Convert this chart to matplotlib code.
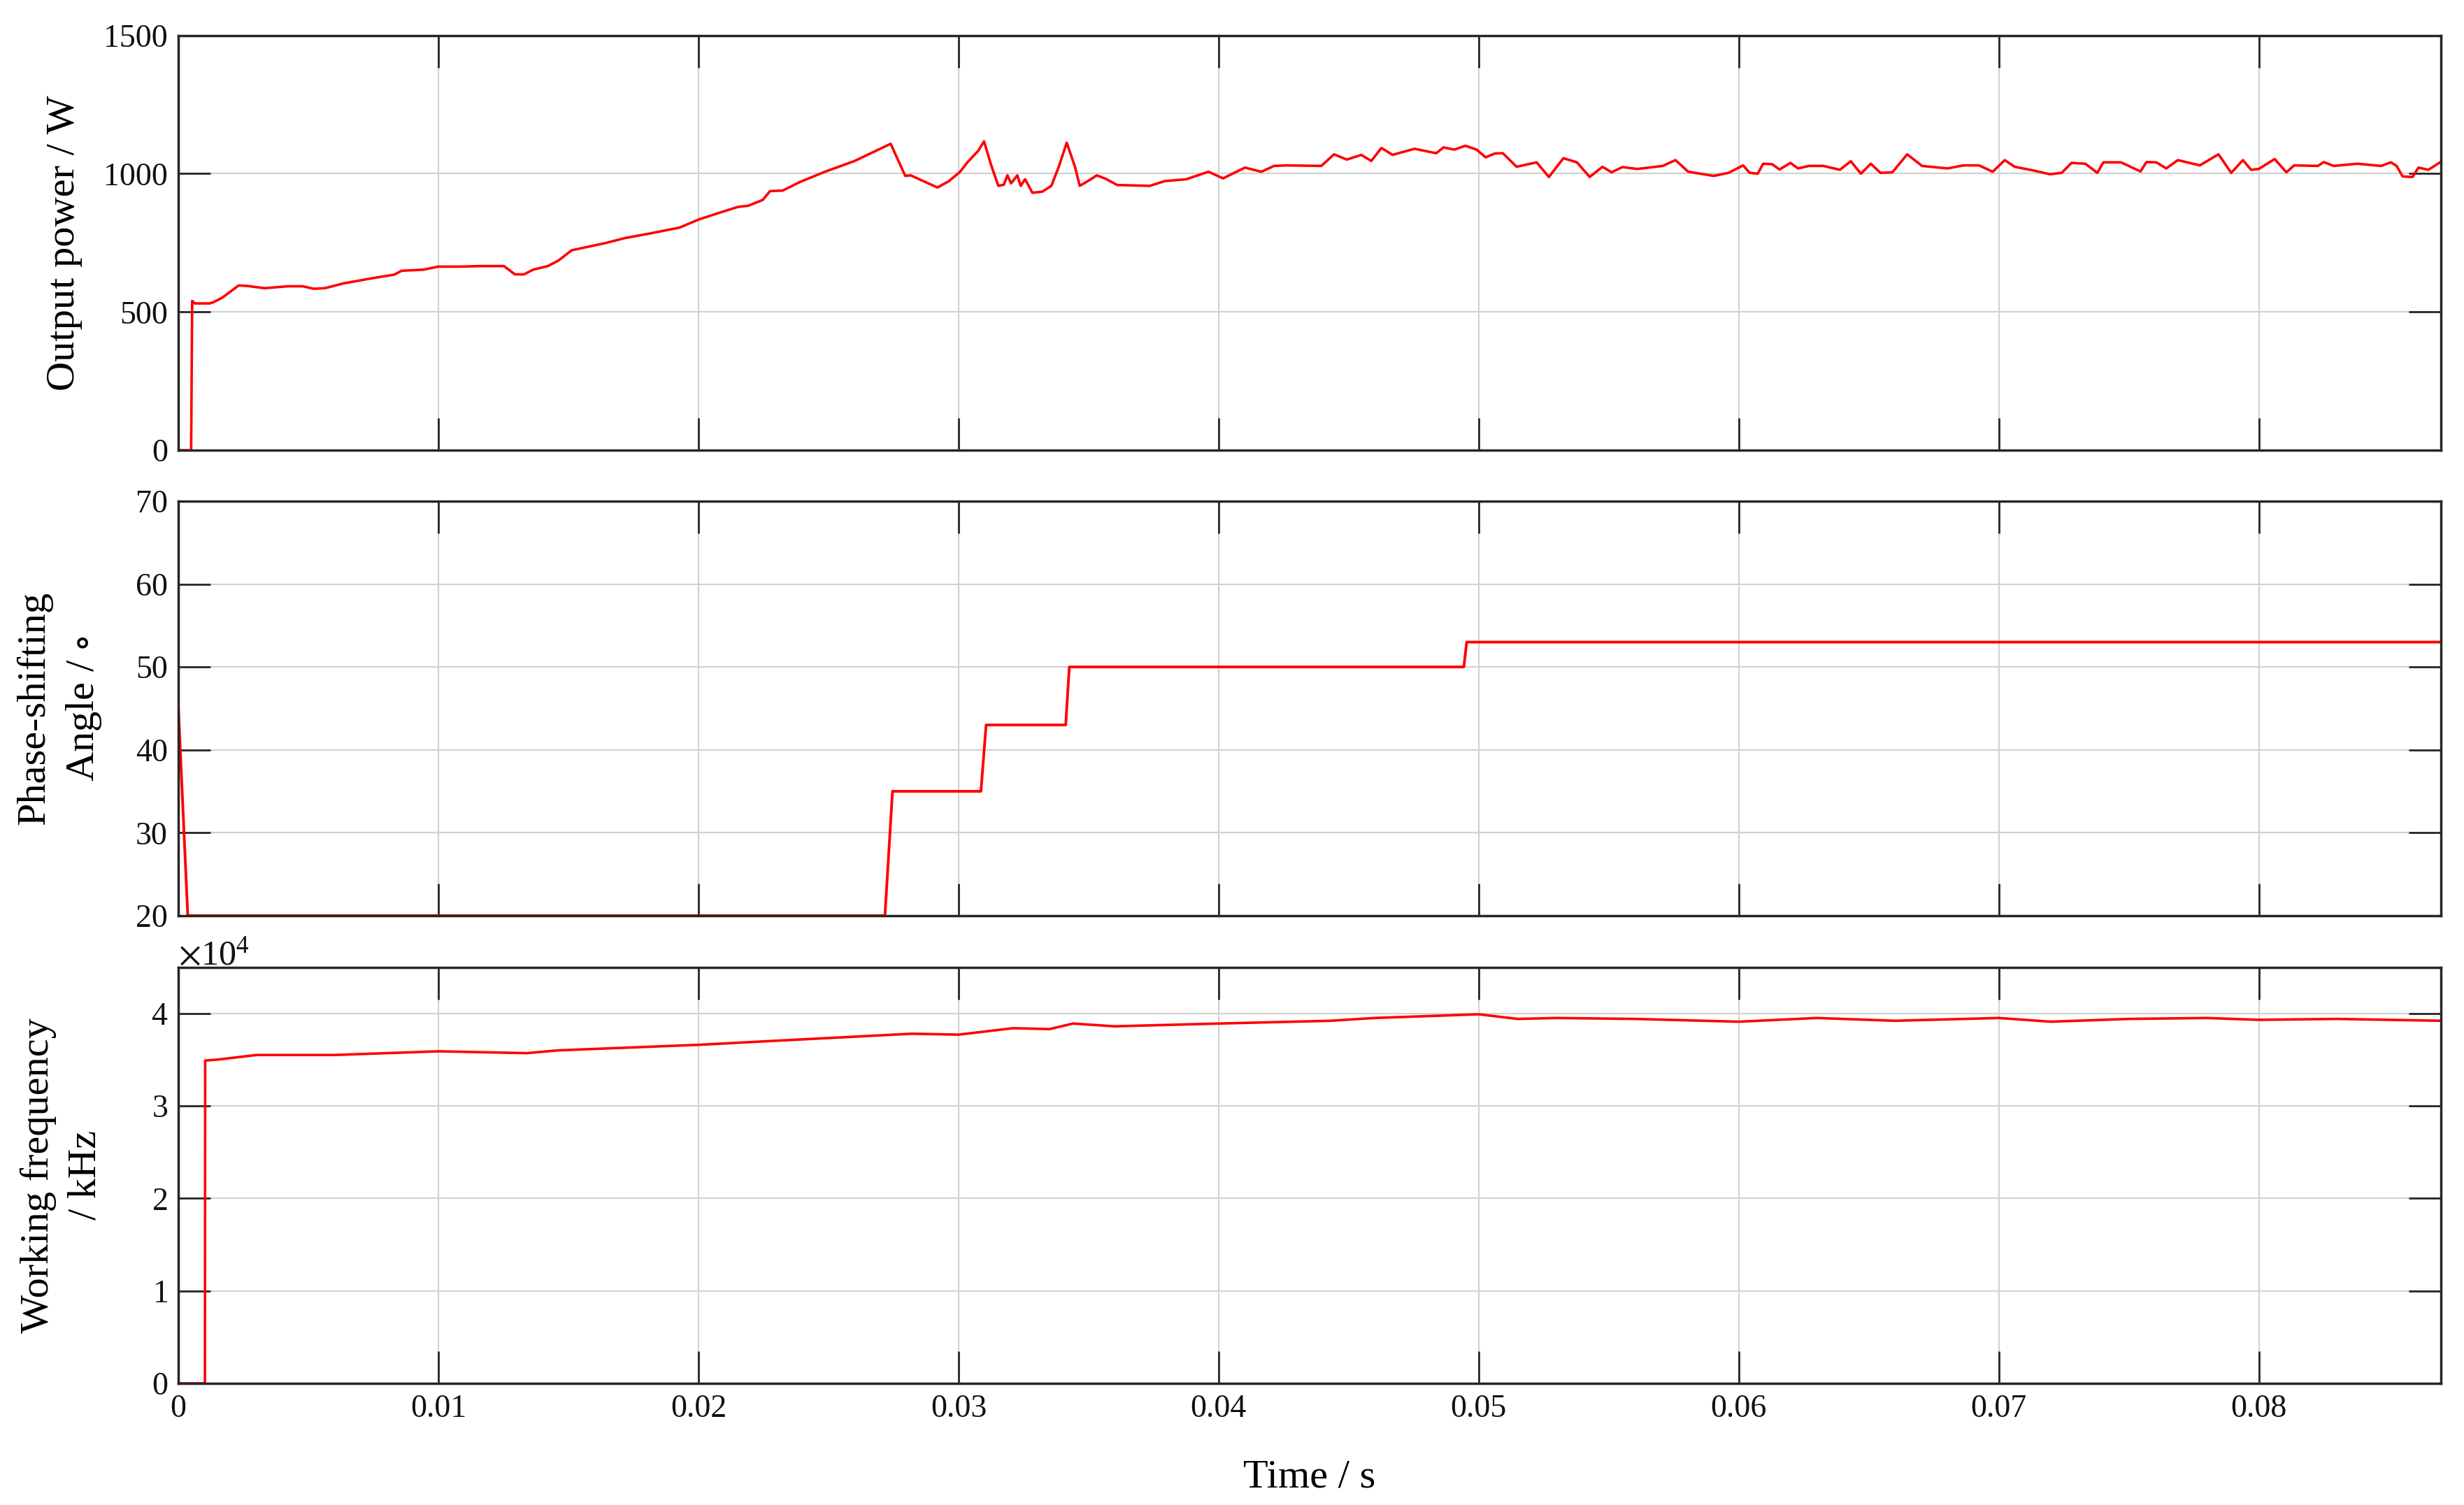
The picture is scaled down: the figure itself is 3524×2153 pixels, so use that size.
import numpy as np
import matplotlib
matplotlib.use('Agg')
import matplotlib.pyplot as plt
from matplotlib.ticker import ScalarFormatter


#Output power (W)
time_p = [0, 0.00049, 0.00053, 0.00063, 0.0012, 0.00134, 0.00169, 0.00232, 0.00267, 0.00331,
		  0.00422, 0.00478, 0.0052, 0.00563, 0.00633, 0.00745, 0.0083, 0.00858, 0.00942, 0.00999,
		  0.01083, 0.01167, 0.01252, 0.01294, 0.01329, 0.01364, 0.01421, 0.01463, 0.01512, 0.01561,
		  0.01646, 0.01716, 0.01814, 0.01927, 0.02, 0.02068, 0.02152, 0.02191, 0.02247, 0.02275,
		  0.02324, 0.02388, 0.02486, 0.02598, 0.02739, 0.02795, 0.02816, 0.02865, 0.02919, 0.02963,
		  0.03006, 0.03034, 0.03076, 0.03098, 0.03125, 0.03153, 0.03174, 0.03188, 0.03202, 0.03226,
		  0.03239, 0.03256, 0.03284, 0.03322, 0.03357, 0.03385, 0.03416, 0.03448, 0.03466, 0.03497,
		  0.03532, 0.03567, 0.0361, 0.03736, 0.03792, 0.03876, 0.03961, 0.04017, 0.04101, 0.04164,
		  0.04213, 0.04261, 0.04395, 0.04444, 0.04493, 0.04549, 0.04587, 0.04626, 0.04669, 0.04753,
		  0.04837, 0.04865, 0.04907, 0.04949, 0.04992, 0.05027, 0.05062, 0.05093, 0.05146, 0.05223,
		  0.0527, 0.05326, 0.05378, 0.05427, 0.05476, 0.05511, 0.05553, 0.0561, 0.05708, 0.05757,
		  0.05806, 0.05904, 0.05961, 0.06017, 0.06042, 0.06073, 0.06094, 0.06129, 0.06157, 0.06199,
		  0.06228, 0.0627, 0.06326, 0.06389, 0.06431, 0.0647, 0.06508, 0.06545, 0.06591, 0.06648,
		  0.06705, 0.06803, 0.06864, 0.06924, 0.06977, 0.07023, 0.07061, 0.07136, 0.07197, 0.07242,
		  0.0728, 0.07333, 0.07379, 0.07402, 0.0747, 0.075, 0.07545, 0.07568, 0.07606, 0.07644,
		  0.07689, 0.07773, 0.07845, 0.07894, 0.07939, 0.0797, 0.08, 0.08061, 0.08106, 0.08136,
		  0.08227, 0.0825, 0.08288, 0.08379, 0.0847, 0.08508, 0.0853, 0.08553, 0.08591, 0.08614,
		  0.08652, 0.08697]
power = [0, 0, 540, 531, 531, 535, 552, 596, 594, 586,
		 593, 593, 584, 586, 603, 622, 635, 649, 653, 664,
		 664, 666, 666, 636, 636, 653, 666, 687, 723, 733,
		 750, 767, 784, 805, 834, 855, 880, 884, 905, 937,
		 939, 969, 1007, 1045, 1108, 992, 994, 973, 950, 973,
		 1007, 1041, 1083, 1117, 1032, 956, 960, 994, 965, 994,
		 956, 980, 931, 935, 956, 1024, 1112, 1024, 956, 973,
		 994, 981, 959, 956, 973, 980, 1007, 983, 1022, 1007,
		 1028, 1030, 1028, 1070, 1051, 1068, 1046, 1093, 1068, 1090,
		 1074, 1095, 1087, 1101, 1087, 1059, 1073, 1074, 1025, 1041,
		 988, 1056, 1041, 988, 1025, 1005, 1024, 1017, 1028, 1049,
		 1007, 992, 1003, 1030, 1003, 1000, 1036, 1034, 1015, 1039,
		 1019, 1028, 1028, 1014, 1045, 1000, 1036, 1003, 1005, 1070,
		 1028, 1019, 1030, 1030, 1007, 1049, 1025, 1011, 998, 1003,
		 1039, 1036, 1003, 1041, 1041, 1028, 1008, 1042, 1041, 1019,
		 1049, 1030, 1070, 1003, 1049, 1014, 1017, 1053, 1005, 1030,
		 1028, 1042, 1028, 1036, 1028, 1041, 1028, 990, 988, 1022,
		 1014, 1041]

#Phase-shifting angle (deg)
time_a = [0, 0.00036, 0.02717, 0.02746, 0.03086, 0.03106, 0.03412, 0.03426, 0.04943, 0.04954, 0.087]
angle = [45, 20, 20, 35, 35, 43, 43, 50, 50, 53, 53]

#Working frequency (x 1e4 Hz)
time_f = [0, 0.00102, 0.00103, 0.0015, 0.003, 0.006, 0.01, 0.0134, 0.0146, 0.02,
		  0.0227, 0.0282, 0.03, 0.0321, 0.0335, 0.0344, 0.036, 0.04, 0.0443, 0.046,
		  0.05, 0.0515, 0.053, 0.056, 0.06, 0.063, 0.066, 0.07, 0.072, 0.075,
		  0.078, 0.08, 0.083, 0.087]
freq = [0, 0, 3.49, 3.50, 3.55, 3.55, 3.59, 3.57, 3.60, 3.66,
		3.70, 3.78, 3.77, 3.84, 3.83, 3.89, 3.86, 3.89, 3.92, 3.95,
		3.99, 3.94, 3.95, 3.94, 3.91, 3.95, 3.92, 3.95, 3.91, 3.94,
		3.95, 3.93, 3.94, 3.92]

x_ticks = [0, 0.01, 0.02, 0.03, 0.04, 0.05, 0.06, 0.07, 0.08]
x_labels = ['0', '0.01', '0.02', '0.03', '0.04', '0.05', '0.06', '0.07', '0.08']
p_ticks = [0, 500, 1000, 1500]
a_ticks = [20, 30, 40, 50, 60, 70]
f_ticks = [0, 1e4, 2e4, 3e4, 4e4]


plt.rcParams['font.family'] = ['Liberation Serif', 'DejaVu Serif']
plt.rcParams['mathtext.fontset'] = 'stix'

fig = plt.figure(figsize=(35.24, 21.53), dpi=100)

left = 0.0724
width = 0.9906 - left
ax1 = fig.add_axes([left, 0.7008, width, 0.9765 - 0.7008])
ax2 = fig.add_axes([left, 0.3916, width, 0.6670 - 0.3916])
ax3 = fig.add_axes([left, 0.0808, width, 0.3574 - 0.0808])

red = '#ff0000'
ax1.plot(time_p, power, color=red, lw=2.6)
ax2.plot(time_a, angle, color=red, lw=2.8)
ax3.plot(time_f, np.array(freq) * 1e4, color=red, lw=2.6)

ax1.set_ylim(0, 1500)
ax1.set_yticks(p_ticks)
ax2.set_ylim(20, 70)
ax2.set_yticks(a_ticks)
ax3.set_ylim(0, 4.5e4)
ax3.set_yticks(f_ticks)

#Scientific offset like matlab (x10^4)
fmt = ScalarFormatter(useMathText=True)
fmt.set_powerlimits((0, 0))
ax3.yaxis.set_major_formatter(fmt)
ax3.yaxis.get_offset_text().set_fontsize(36)

for ax in [ax1, ax2, ax3] :
	ax.set_xlim(0, 0.0870)
	ax.set_xticks(x_ticks)
	ax.grid(True, color='#d2d2d2', lw=1.6)
	ax.set_axisbelow(True)
	ax.tick_params(direction='in', length=33, width=2, top=True, right=True,
				   labelsize=33, pad=11, colors='#262626', labelcolor='#111111')
	for s in ax.spines.values() :
		s.set_linewidth(2.5)
		s.set_color('#262626')

ax1.set_xticklabels([])
ax2.set_xticklabels([])
ax3.set_xticklabels(x_labels)

#Axis labels
lab_x = -0.0505
ax1.set_ylabel('Output power / W', fontsize=42, va='center')
ax1.yaxis.set_label_coords(lab_x, 0.5)
ax2.set_ylabel('Phase-shifting\nAngle / $\\circ$', fontsize=42, va='center', linespacing=1.4)
ax2.yaxis.set_label_coords(lab_x - 0.002, 0.5)
ax3.set_ylabel('Working frequency\n/ kHz', fontsize=42, va='center', linespacing=1.4)
ax3.yaxis.set_label_coords(lab_x - 0.001, 0.5)
ax3.set_xlabel('Time / s', fontsize=42, va='center')
ax3.xaxis.set_label_coords(0.5, -0.226)

fig.savefig('out.png', dpi=100)
